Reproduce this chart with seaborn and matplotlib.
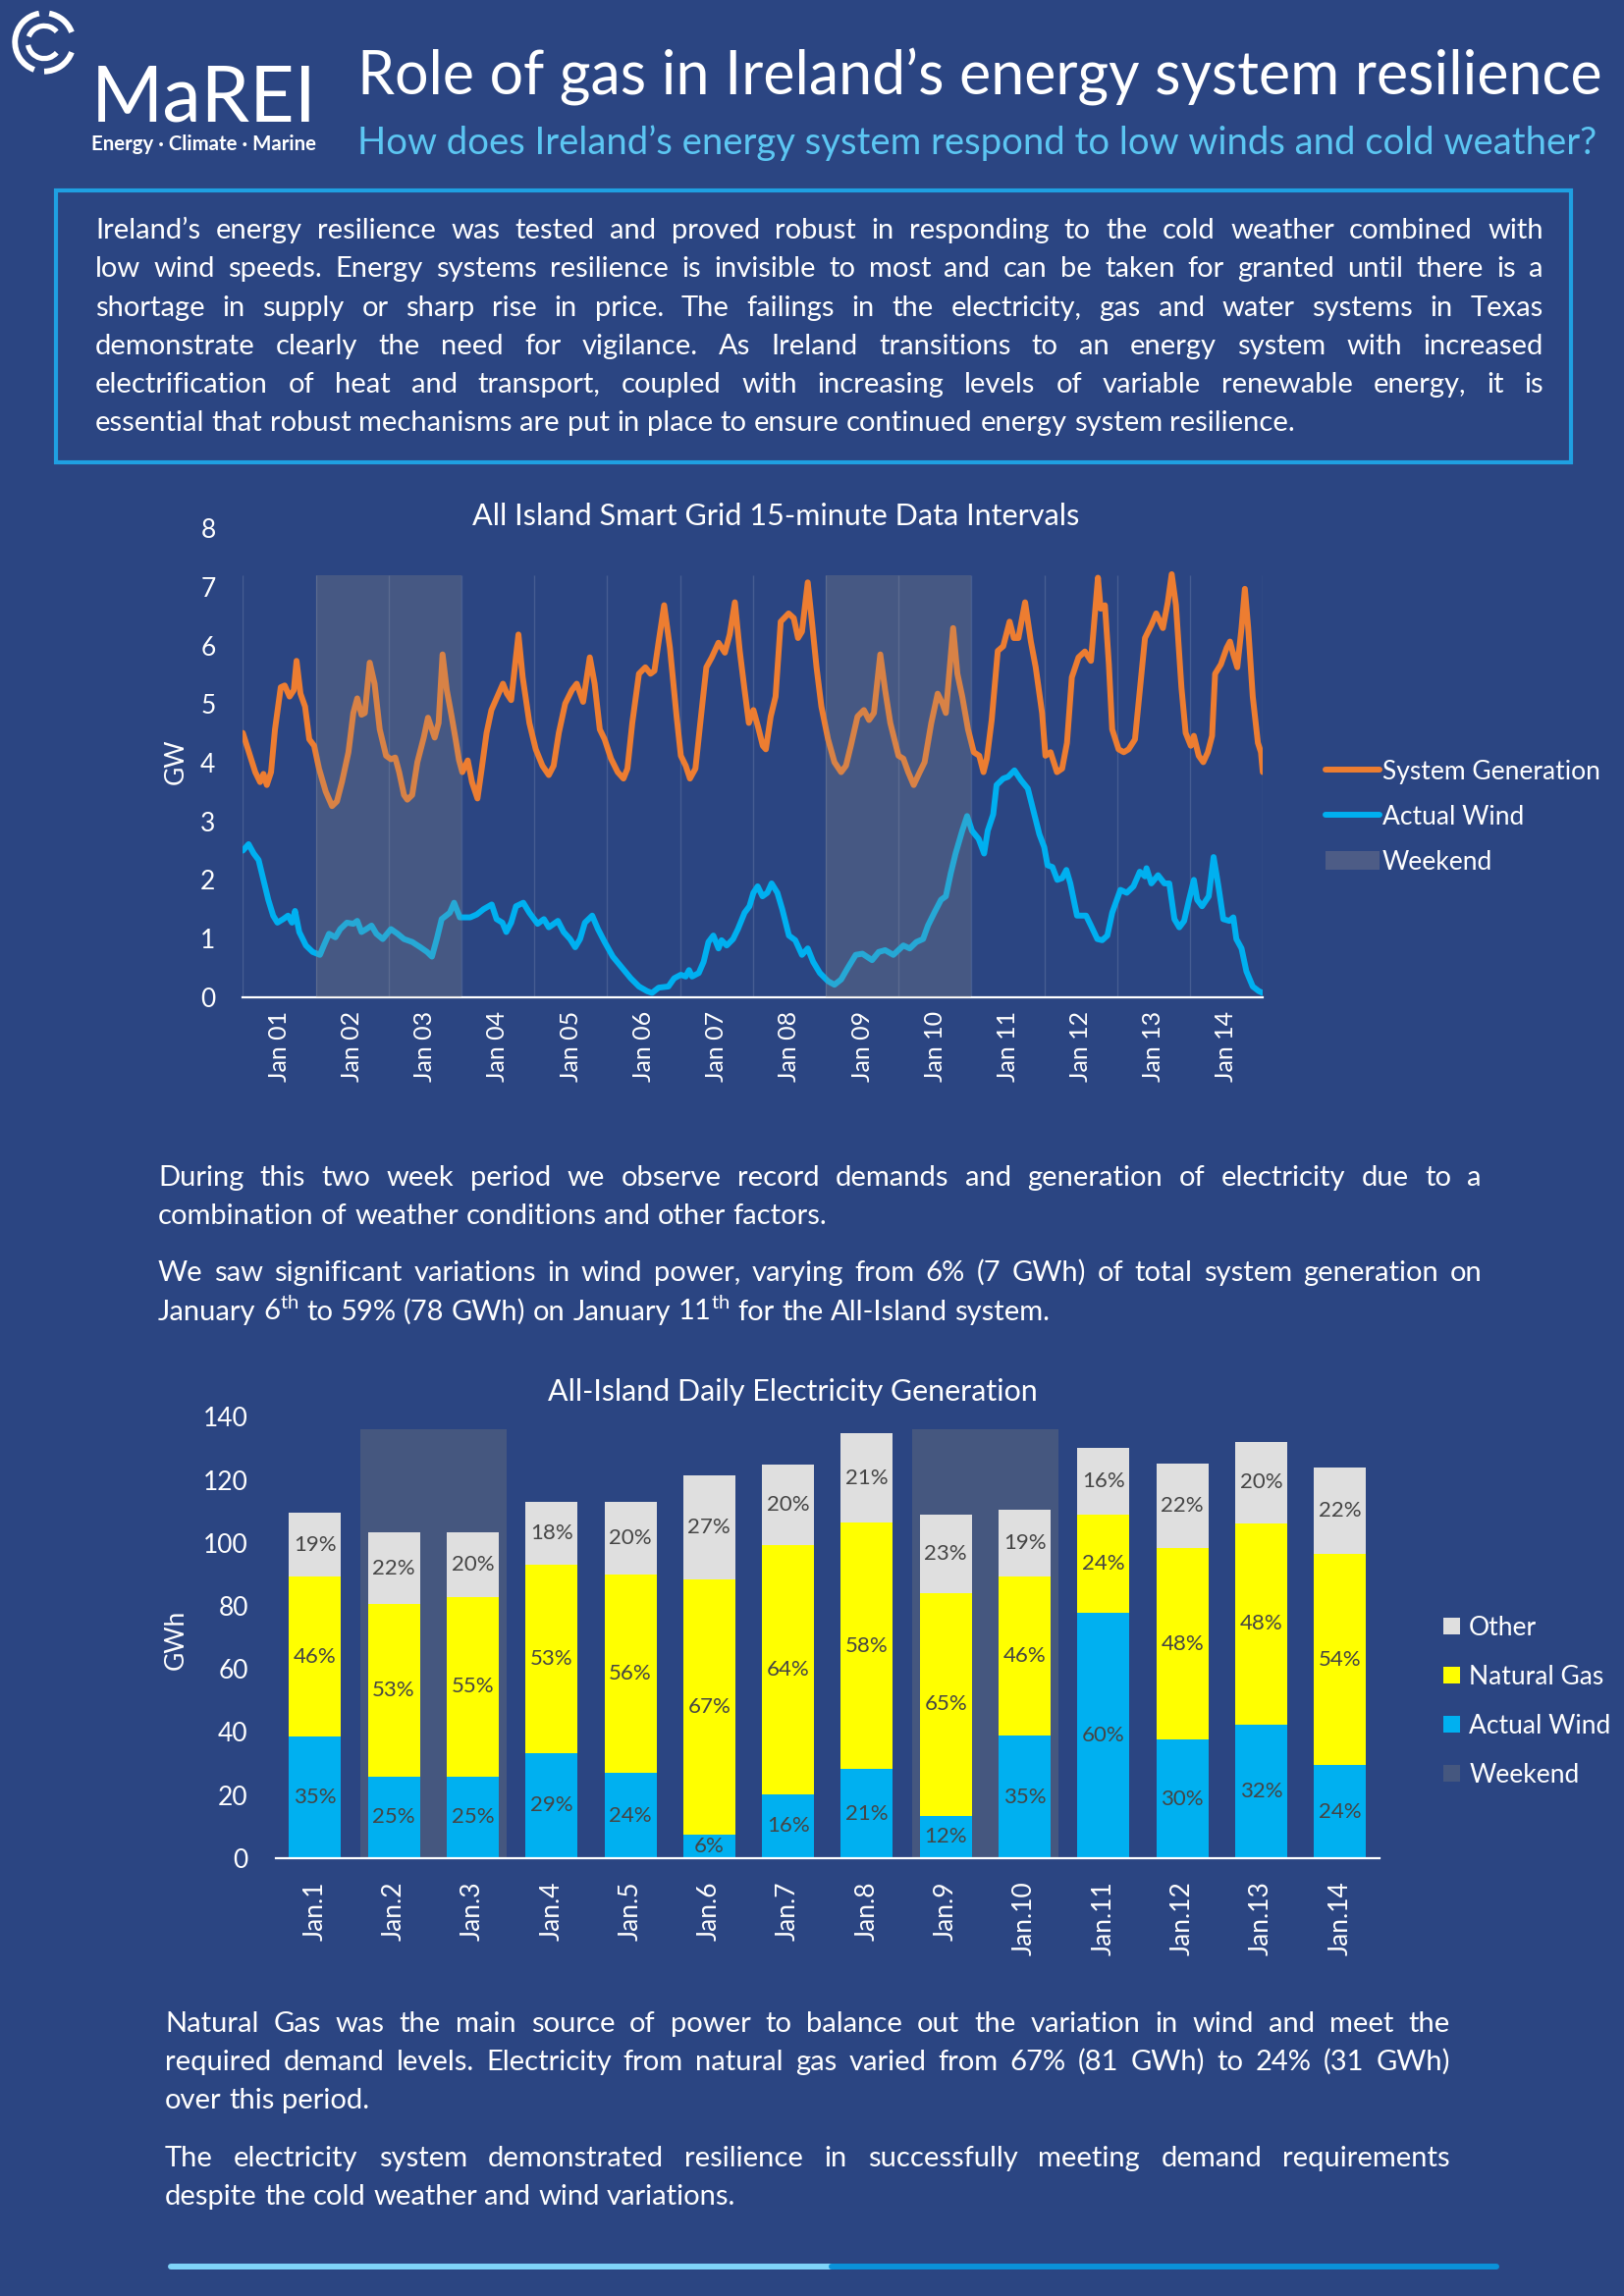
import matplotlib
matplotlib.use("Agg")
import matplotlib.pyplot as plt
import seaborn as sns
from matplotlib.lines import Line2D
from matplotlib.patches import Patch, Rectangle, Arc

# ---------------------------
# Colours
# ---------------------------
BG = "#2B4582"
ORANGE = "#ED7D31"
WIND_BLUE = "#00B0F0"
GAS_YELLOW = "#FFFF00"
OTHER_GREY = "#DFDFDF"
LIGHT_BLUE = "#5CC6F2"
BOX_BLUE = "#1FA0E2"
SHADE = "#9A9488"
BAR_SHADE = "#45577F"
LABEL_GREY = "#454545"

# ---------------------------
# Data: 15-minute chart (hours from Jan 01 00:00, GW)
# ---------------------------
sysgen_hours = [
    0, 4.1, 5.7, 6.8, 7.9, 9.3, 10.6, 12.5, 13.8, 15.4, 16.8, 17.7, 19.0, 20.5, 21.9, 23.5,
    25.1, 27.3, 29.4, 31.0, 32.7, 34.8, 36.4, 37.7, 39.1, 40.2, 41.8, 43.4, 45.1, 47.2,
    48.8, 50.2, 51.5, 53.1, 54.2, 55.8, 57.5, 59.6, 61.0, 62.3, 63.2, 64.5, 65.8, 67.2, 68.8, 70.1,
    71.2, 72.3, 74.1, 75.5, 77.3, 78.7, 80.3, 81.9, 83.6, 85.7, 87.0, 88.4, 90.8, 92.2, 94.4,
    96.5, 98.7, 100.8, 102.4, 104.1, 106.2, 108.4, 110.0, 112.1, 114.3, 115.9, 117.6, 119.2,
    121.3, 123.5, 125.4, 126.7, 128.3, 130.5, 132.6, 134.3, 135.6, 137.0, 138.8, 140.7, 142.9,
    144.3, 145.9, 147.3, 149.1, 150.7, 152.7, 154.5, 156.7, 158.8, 160.4, 162.1, 163.7, 165.3,
    166.7, 168.2, 169.7, 171.3, 172.3, 173.9, 175.5, 177.2, 179.8, 181.5, 182.9, 184.2, 186.1,
    187.6, 189.0, 190.6, 192.8, 194.9, 197.1, 198.7, 200.3, 202.5, 204.6, 206.3, 207.9, 210.0,
    211.6, 213.3,
    216.0, 217.6, 219.2, 221.0, 223.0, 224.6, 226.8, 228.9, 230.5, 231.6, 232.7, 234.0, 235.4,
    237.0, 238.9, 240.8, 242.6, 244.0, 245.1, 246.7, 248.7, 250.5, 252.6, 254.0, 255.5, 257.7,
    259.6, 261.2, 263.3, 264.4, 266.1, 268.2, 269.9, 271.5, 273.1, 275.3,
    277.4, 279.4, 281.7, 282.6, 284.0, 285.3, 286.4, 288.5, 290.2, 291.8, 293.9, 295.5, 297.2,
    299.3, 300.9, 303.1, 304.7, 306.0, 307.4, 309.2, 310.6, 312.3, 313.3, 314.9, 316.4, 317.9,
    319.3, 320.3, 322.2, 324.1, 325.2, 326.3, 327.6, 329.0, 330.1, 331.2, 332.7, 334.4, 335.4, 336.0,
]
sysgen_gw = [
    4.51, 3.84, 3.67, 3.81, 3.62, 3.84, 4.57, 5.29, 5.32, 5.13, 5.24, 5.74, 5.18, 4.96, 4.40, 4.29,
    3.90, 3.51, 3.26, 3.34, 3.68, 4.18, 4.85, 5.10, 4.82, 4.85, 5.71, 5.35, 4.57, 4.12,
    4.06, 4.09, 3.84, 3.45, 3.37, 3.45, 4.01, 4.43, 4.77, 4.57, 4.43, 4.68, 5.85, 5.24, 4.79, 4.40,
    4.05, 3.84, 4.04, 3.67, 3.39, 3.90, 4.51, 4.90, 5.10, 5.35, 5.18, 5.07, 6.19, 5.46, 4.68,
    4.23, 3.95, 3.79, 3.95, 4.51, 5.01, 5.24, 5.35, 5.04, 5.80, 5.35, 4.57, 4.40,
    4.07, 3.84, 3.73, 3.90, 4.68, 5.52, 5.63, 5.52, 5.57, 6.07, 6.69, 5.96, 4.79,
    4.12, 3.95, 3.73, 3.90, 4.68, 5.63, 5.80, 6.05, 5.88, 6.19, 6.74, 5.91, 5.24,
    4.68, 4.90, 4.62, 4.29, 4.23, 4.79, 5.13, 6.41, 6.55, 6.47, 6.13, 6.24, 7.08,
    6.35, 5.63, 4.96, 4.40, 4.01, 3.84, 3.95, 4.29, 4.79, 4.90, 4.73, 4.85, 5.85,
    5.24, 4.68,
    4.12, 4.07, 3.84, 3.62, 3.84, 4.01, 4.68, 5.18, 5.01, 4.85, 5.52, 6.30, 5.52,
    5.13, 4.57, 4.18, 4.12, 3.84, 4.07, 4.73, 5.91, 5.99, 6.41, 6.13, 6.13, 6.74,
    6.07, 5.63, 4.85, 4.12, 4.18, 3.84, 3.90, 4.34, 5.46, 5.80,
    5.90, 5.74, 7.16, 6.63, 6.69, 5.68, 4.57, 4.23, 4.18, 4.23, 4.40, 5.24, 6.13,
    6.35, 6.55, 6.30, 6.74, 7.22, 6.69, 5.29, 4.51, 4.29, 4.46, 4.12, 4.01, 4.18,
    4.46, 5.52, 5.68, 5.96, 6.07, 5.85, 5.63, 6.30, 6.97, 6.30, 5.13, 4.34, 4.18, 3.84,
]

wind_hours = [
    0, 1.9, 3.6, 5.2, 6.8, 8.4, 10.0, 11.4, 13.3, 14.9, 16.2, 17.2, 18.6, 20.8, 23.0,
    25.4, 26.7, 28.4, 30.5, 32.1, 34.3, 36.4, 37.7, 39.1, 40.7, 42.4, 44.0, 46.1,
    48.8, 51.0, 53.1, 55.8, 58.5, 60.7, 62.3, 63.9, 65.5, 68.2, 69.6, 71.5,
    74.9, 77.1, 79.3, 82.0, 83.6, 85.5, 86.8, 88.4, 90.0, 92.4, 94.4, 97.1, 99.2, 100.8,
    103.8, 105.7, 107.8, 109.5, 111.1, 112.7, 115.1, 117.0, 119.2, 121.9, 125.1, 127.8,
    130.5, 133.2, 134.8, 137.0, 140.2,
    142.1, 144.3, 145.9, 147.0, 148.0, 150.2, 151.8, 153.4, 155.0, 156.7, 157.7, 159.4,
    161.5, 163.1, 165.3, 166.9, 168.2, 169.6, 171.2, 172.8, 174.2, 176.1, 177.7, 179.9,
    182.0, 184.2, 186.1, 187.9, 190.1, 192.8, 194.9, 197.1, 199.2, 201.9, 204.1, 207.3,
    209.5, 211.6, 214.3,
    217.6, 219.7, 221.9, 224.1, 225.7, 227.8, 230.0, 231.6, 233.2, 234.8, 237.0, 238.6,
    240.2, 242.4, 244.2, 245.4, 247.2, 248.3, 250.5, 252.1, 254.2, 256.4, 258.6, 260.5,
    262.4, 264.0, 265.1, 266.7, 268.3, 269.9, 271.3, 272.6, 274.8,
    277.8, 279.4, 281.5, 283.1, 284.8, 286.4, 289.1, 291.2, 293.4, 295.5, 297.2, 297.7,
    299.3, 301.5, 303.6, 305.2, 306.9, 308.5, 310.1, 311.7, 313.3, 314.4, 316.0, 318.2,
    319.8, 321.4, 323.0, 325.0, 326.3, 327.3, 329.0, 330.6, 332.7, 334.7, 336.0,
]
wind_gw = [
    2.50, 2.61, 2.45, 2.34, 2.00, 1.66, 1.39, 1.27, 1.33, 1.39, 1.27, 1.47, 1.11, 0.88, 0.77,
    0.72, 0.88, 1.08, 1.02, 1.16, 1.27, 1.25, 1.30, 1.11, 1.16, 1.22, 1.08, 0.99,
    1.16, 1.08, 0.99, 0.94, 0.85, 0.77, 0.69, 0.99, 1.33, 1.44, 1.61, 1.36,
    1.36, 1.41, 1.50, 1.58, 1.33, 1.27, 1.11, 1.27, 1.55, 1.61, 1.44, 1.25, 1.33, 1.19,
    1.30, 1.11, 0.99, 0.85, 0.99, 1.27, 1.39, 1.16, 0.94, 0.69, 0.49, 0.32,
    0.18, 0.10, 0.07, 0.16, 0.18,
    0.32, 0.38, 0.35, 0.46, 0.35, 0.41, 0.60, 0.94, 1.05, 0.83, 0.97, 0.88,
    0.99, 1.16, 1.44, 1.55, 1.78, 1.89, 1.72, 1.78, 1.94, 1.78, 1.50, 1.05,
    0.97, 0.72, 0.83, 0.60, 0.41, 0.27, 0.21, 0.30, 0.49, 0.72, 0.74, 0.63,
    0.77, 0.80, 0.72,
    0.88, 0.83, 0.94, 0.99, 1.22, 1.44, 1.66, 1.72, 2.11, 2.45, 2.84, 3.09,
    2.84, 2.70, 2.45, 2.84, 3.12, 3.62, 3.73, 3.76, 3.87, 3.70, 3.56, 3.17,
    2.78, 2.56, 2.25, 2.22, 2.00, 2.03, 2.17, 1.94, 1.39,
    1.39, 1.22, 0.99, 0.97, 1.05, 1.44, 1.83, 1.78, 1.89, 2.14, 2.06, 2.20,
    1.94, 2.08, 1.94, 1.94, 1.33, 1.19, 1.30, 1.66, 2.00, 1.66, 1.55, 1.72,
    2.39, 1.89, 1.33, 1.30, 1.36, 0.99, 0.83, 0.44, 0.18, 0.10, 0.07,
]

line_day_labels = ["Jan 01", "Jan 02", "Jan 03", "Jan 04", "Jan 05", "Jan 06", "Jan 07",
                   "Jan 08", "Jan 09", "Jan 10", "Jan 11", "Jan 12", "Jan 13", "Jan 14"]
line_weekends = [(24, 72), (192, 240)]        # hours
line_weekend_top = 7.2

# ---------------------------
# Data: daily generation (GWh) and the printed percentage labels
# ---------------------------
bar_days = ["Jan.1", "Jan.2", "Jan.3", "Jan.4", "Jan.5", "Jan.6", "Jan.7",
            "Jan.8", "Jan.9", "Jan.10", "Jan.11", "Jan.12", "Jan.13", "Jan.14"]
wind_gwh = [38.5, 25.9, 25.9, 33.4, 27.0, 7.3, 20.2, 28.2, 13.4, 38.8, 77.8, 37.6, 42.4, 29.4]
gas_gwh = [50.8, 54.6, 56.9, 59.8, 63.1, 81.0, 79.2, 78.2, 70.7, 50.4, 31.3, 60.7, 63.8, 67.0]
other_gwh = [20.3, 22.8, 20.5, 19.9, 22.8, 33.0, 25.4, 28.3, 25.0, 21.4, 20.9, 26.8, 25.8, 27.6]
wind_pct = ["35%", "25%", "25%", "29%", "24%", "6%", "16%", "21%", "12%", "35%", "60%", "30%", "32%", "24%"]
gas_pct = ["46%", "53%", "55%", "53%", "56%", "67%", "64%", "58%", "65%", "46%", "24%", "48%", "48%", "54%"]
other_pct = ["19%", "22%", "20%", "18%", "20%", "27%", "20%", "21%", "23%", "19%", "16%", "22%", "20%", "22%"]
bar_weekends = [(1, 2), (8, 9)]               # category indices
bar_weekend_top = 136

# ---------------------------
# Texts
# ---------------------------
TITLE = "Role of gas in Ireland’s energy system resilience"
SUBTITLE = "How does Ireland’s energy system respond to low winds and cold weather?"
INTRO = [[
    "Ireland’s energy resilience was tested and proved robust in responding to the cold weather combined with",
    "low wind speeds. Energy systems resilience is invisible to most and can be taken for granted until there is a",
    "shortage in supply or sharp rise in price. The failings in the electricity, gas and water systems in Texas",
    "demonstrate clearly the need for vigilance. As Ireland transitions to an energy system with increased",
    "electrification of heat and transport, coupled with increasing levels of variable renewable energy, it is",
    "essential that robust mechanisms are put in place to ensure continued energy system resilience.",
]]
MIDDLE = [
    ["During this two week period we observe record demands and generation of electricity due to a",
     "combination of weather conditions and other factors."],
    ["We saw significant variations in wind power, varying from 6% (7 GWh) of total system generation on",
     "January 6$^{\\mathrm{th}}$ to 59% (78 GWh) on January 11$^{\\mathrm{th}}$ for the All-Island system."],
]
BOTTOM = [
    ["Natural Gas was the main source of power to balance out the variation in wind and meet the",
     "required demand levels. Electricity from natural gas varied from 67% (81 GWh) to 24% (31 GWh)",
     "over this period."],
    ["The electricity system demonstrated resilience in successfully meeting demand requirements",
     "despite the cold weather and wind variations."],
]

# ---------------------------
# Figure set-up (pixel helpers)
# ---------------------------
sns.set_theme(style="white")
plt.rcParams["font.family"] = ["Lato", "DejaVu Sans"]
plt.rcParams["mathtext.fontset"] = "custom"
plt.rcParams["mathtext.rm"] = "Lato"
plt.rcParams["mathtext.it"] = "Lato:italic"
plt.rcParams["mathtext.bf"] = "Lato:bold"

W, H = 1654, 2339
fig = plt.figure(figsize=(W / 100, H / 100), dpi=100, facecolor=BG)
renderer = fig.canvas.get_renderer()


def fx(x):
    return x / W


def fy(y):
    return 1 - y / H


def box(x0, y0, x1, y1):
    return [x0 / W, 1 - y1 / H, (x1 - x0) / W, (y1 - y0) / H]


def text_width(s, size, **kw):
    t = fig.text(0, 0, s, fontsize=size, **kw)
    w = t.get_window_extent(renderer).width
    t.remove()
    return w


def fitted(x, y, s, width, ha="left", **kw):
    size = 30 * width / text_width(s, 30, **kw)
    fig.text(fx(x), fy(y), s, fontsize=size, ha=ha, va="baseline", **kw)


def justified(line, x0, x1, y, size, stretch=True, color="white"):
    words = line.split(" ")
    items = [fig.text(0, 0, w, fontsize=size, color=color, va="baseline") for w in words]
    widths = [t.get_window_extent(renderer).width for t in items]
    if stretch and len(words) > 1:
        gap = (x1 - x0 - sum(widths)) / (len(words) - 1)
    else:
        gap = text_width("a a", size) - text_width("aa", size)
    x = x0
    for t, w in zip(items, widths):
        t.set_position((fx(x), fy(y)))
        x += w + gap


# one text size for every paragraph, so the widest line still fits
blocks = [(INTRO, 97, 1572), (MIDDLE, 161, 1509), (BOTTOM, 168, 1477)]
para_size = 21
for paras, x0, x1 in blocks:
    for para in paras:
        for line in para:
            para_size = min(para_size, 20 * (x1 - x0) / text_width(line, 20) * 0.995)


def paragraphs(paras, x0, x1, baselines):
    for para, ys in zip(paras, baselines):
        for i, (line, y) in enumerate(zip(para, ys)):
            justified(line, x0, x1, y, para_size, stretch=i < len(para) - 1)


# ---------------------------
# Header: logo, title, subtitle
# ---------------------------
ax_logo = fig.add_axes(box(10, 8, 80, 78))
ax_logo.set_xlim(-1, 1)
ax_logo.set_ylim(-1, 1)
ax_logo.set_aspect("equal")
ax_logo.axis("off")
for t1, t2 in [(100, 250), (270, 340), (20, 80)]:
    ax_logo.add_patch(Arc((0, 0), 1.7, 1.7, theta1=t1, theta2=t2, color="white", lw=4.2))
for t1, t2 in [(40, 160), (190, 320)]:
    ax_logo.add_patch(Arc((0, 0), 0.95, 0.95, theta1=t1, theta2=t2, color="white", lw=3.8))

fitted(93, 123, "MaREI", 229, color="white")
fitted(93, 153, "Energy · Climate · Marine", 229, color="white", fontweight="bold")
fitted(364, 97, TITLE, 1266, color="white")
fitted(364, 157, SUBTITLE, 1261, color=LIGHT_BLUE)

fig.add_artist(Rectangle((fx(57), fy(471)), (1600 - 57) / W, (471 - 194) / H,
                         transform=fig.transFigure, fill=False, ec=BOX_BLUE, lw=3))
paragraphs(INTRO, 97, 1572, [[243 + 39.3 * i for i in range(6)]])

# ---------------------------
# Line chart
# ---------------------------
ax1 = fig.add_axes(box(247.3, 538.4, 1286.1, 1015.7))
ax1.set_facecolor("none")
ax1.vlines([24 * d for d in range(15)], 0, line_weekend_top,
           color="white", alpha=0.13, lw=1, zorder=1)
sns.lineplot(x=sysgen_hours, y=sysgen_gw, ax=ax1, color=ORANGE, linewidth=4.3, zorder=3)
sns.lineplot(x=wind_hours, y=wind_gw, ax=ax1, color=WIND_BLUE, linewidth=4.3, zorder=3)
for start, end in line_weekends:
    ax1.axvspan(start, end, ymax=line_weekend_top / 8, color=SHADE, alpha=0.25, lw=0, zorder=4)
ax1.set_xlim(0, 336)
ax1.set_ylim(0, 8)
ax1.set_xticks([24 * d + 12 for d in range(14)])
ax1.set_xticklabels(line_day_labels, rotation=90, va="top")
ax1.set_yticks(range(9))
ax1.tick_params(axis="y", labelsize=19, labelcolor="white", length=0, pad=20)
ax1.tick_params(axis="x", labelsize=18, labelcolor="white", length=0, pad=10)
ax1.set_xlabel("")
ax1.set_ylabel("")
for side in ["top", "right", "left"]:
    ax1.spines[side].set_visible(False)
ax1.spines["bottom"].set_color("white")
ax1.spines["bottom"].set_linewidth(1.6)

fitted(790, 535, "All Island Smart Grid 15-minute Data Intervals", 619, ha="center", color="white")
fig.text(fx(179), fy(776), "GW", rotation=90, ha="center", va="center", fontsize=19, color="white")

line_handles = [Line2D([], [], color=ORANGE, lw=4.3),
                Line2D([], [], color=WIND_BLUE, lw=4.3),
                Patch(facecolor="#4D5C86", edgecolor="none")]
leg1 = ax1.legend(line_handles, ["System Generation", "Actual Wind", "Weekend"],
                  loc="upper left", bbox_to_anchor=(fx(1326), fy(750)),
                  bbox_transform=fig.transFigure, frameon=False, fontsize=19,
                  handlelength=2.1, handleheight=0.75, handletextpad=0.1, labelspacing=0.8)
for t in leg1.get_texts():
    t.set_color("white")

# ---------------------------
# Middle text
# ---------------------------
paragraphs(MIDDLE, 161, 1509, [[1208, 1247], [1305, 1345]])

# ---------------------------
# Stacked bar chart
# ---------------------------
ax2 = fig.add_axes(box(280.6, 1443.3, 1405, 1892.9))
ax2.set_facecolor("none")
totals = [w + g + o for w, g, o in zip(wind_gwh, gas_gwh, other_gwh)]
wind_gas = [w + g for w, g in zip(wind_gwh, gas_gwh)]
sns.barplot(x=bar_days, y=totals, ax=ax2, color=OTHER_GREY, width=0.66, saturation=1,
            edgecolor="none", zorder=2)
sns.barplot(x=bar_days, y=wind_gas, ax=ax2, color=GAS_YELLOW, width=0.66, saturation=1,
            edgecolor="none", zorder=2)
sns.barplot(x=bar_days, y=wind_gwh, ax=ax2, color=WIND_BLUE, width=0.66, saturation=1,
            edgecolor="none", zorder=2)
for first, last in bar_weekends:
    ax2.axvspan(first - 0.43, last + 0.43, ymax=bar_weekend_top / 140,
                color=BAR_SHADE, lw=0, zorder=1)

for i in range(len(bar_days)):
    ax2.text(i, wind_gwh[i] / 2, wind_pct[i], ha="center", va="center",
             fontsize=16, color=LABEL_GREY, zorder=5)
    ax2.text(i, wind_gwh[i] + gas_gwh[i] / 2, gas_pct[i], ha="center", va="center",
             fontsize=16, color=LABEL_GREY, zorder=5)
    ax2.text(i, wind_gas[i] + other_gwh[i] / 2, other_pct[i], ha="center", va="center",
             fontsize=16, color=LABEL_GREY, zorder=5)

ax2.set_xlim(-0.5, len(bar_days) - 0.5)
ax2.set_ylim(0, 140)
ax2.set_yticks(range(0, 141, 20))
ax2.set_xticks(range(len(bar_days)))
ax2.set_xticklabels(bar_days, rotation=90, va="top")
ax2.tick_params(axis="y", labelsize=19, labelcolor="white", length=0, pad=20)
ax2.tick_params(axis="x", labelsize=19, labelcolor="white", length=0, pad=17)
ax2.set_xlabel("")
ax2.set_ylabel("")
for side in ["top", "right", "left"]:
    ax2.spines[side].set_visible(False)
ax2.spines["bottom"].set_color("white")
ax2.spines["bottom"].set_linewidth(1.6)

fitted(807, 1427, "All-Island Daily Electricity Generation", 498, ha="center", color="white")
fig.text(fx(179), fy(1670), "GWh", rotation=90, ha="center", va="center", fontsize=19, color="white")

bar_handles = [Patch(facecolor=OTHER_GREY, edgecolor="none"),
               Patch(facecolor=GAS_YELLOW, edgecolor="none"),
               Patch(facecolor=WIND_BLUE, edgecolor="none"),
               Patch(facecolor=BAR_SHADE, edgecolor="none")]
leg2 = ax2.legend(bar_handles, ["Other", "Natural Gas", "Actual Wind", "Weekend"],
                  loc="upper left", bbox_to_anchor=(fx(1446), fy(1622)),
                  bbox_transform=fig.transFigure, frameon=False, fontsize=19,
                  handlelength=0.65, handleheight=0.65, handletextpad=0.35, labelspacing=0.95)
for t in leg2.get_texts():
    t.set_color("white")

# ---------------------------
# Bottom text and rule
# ---------------------------
paragraphs(BOTTOM, 168, 1477, [[2070, 2109, 2148], [2207, 2246]])
fig.add_artist(Line2D([fx(174), fx(847)], [fy(2309), fy(2309)], color="#7FD4F8", lw=4.3))
fig.add_artist(Line2D([fx(847), fx(1524)], [fy(2309), fy(2309)], color="#0B92D9", lw=4.3))

fig.savefig("out.png", dpi=100, facecolor=BG)
plt.close(fig)
print("saved out.png")
